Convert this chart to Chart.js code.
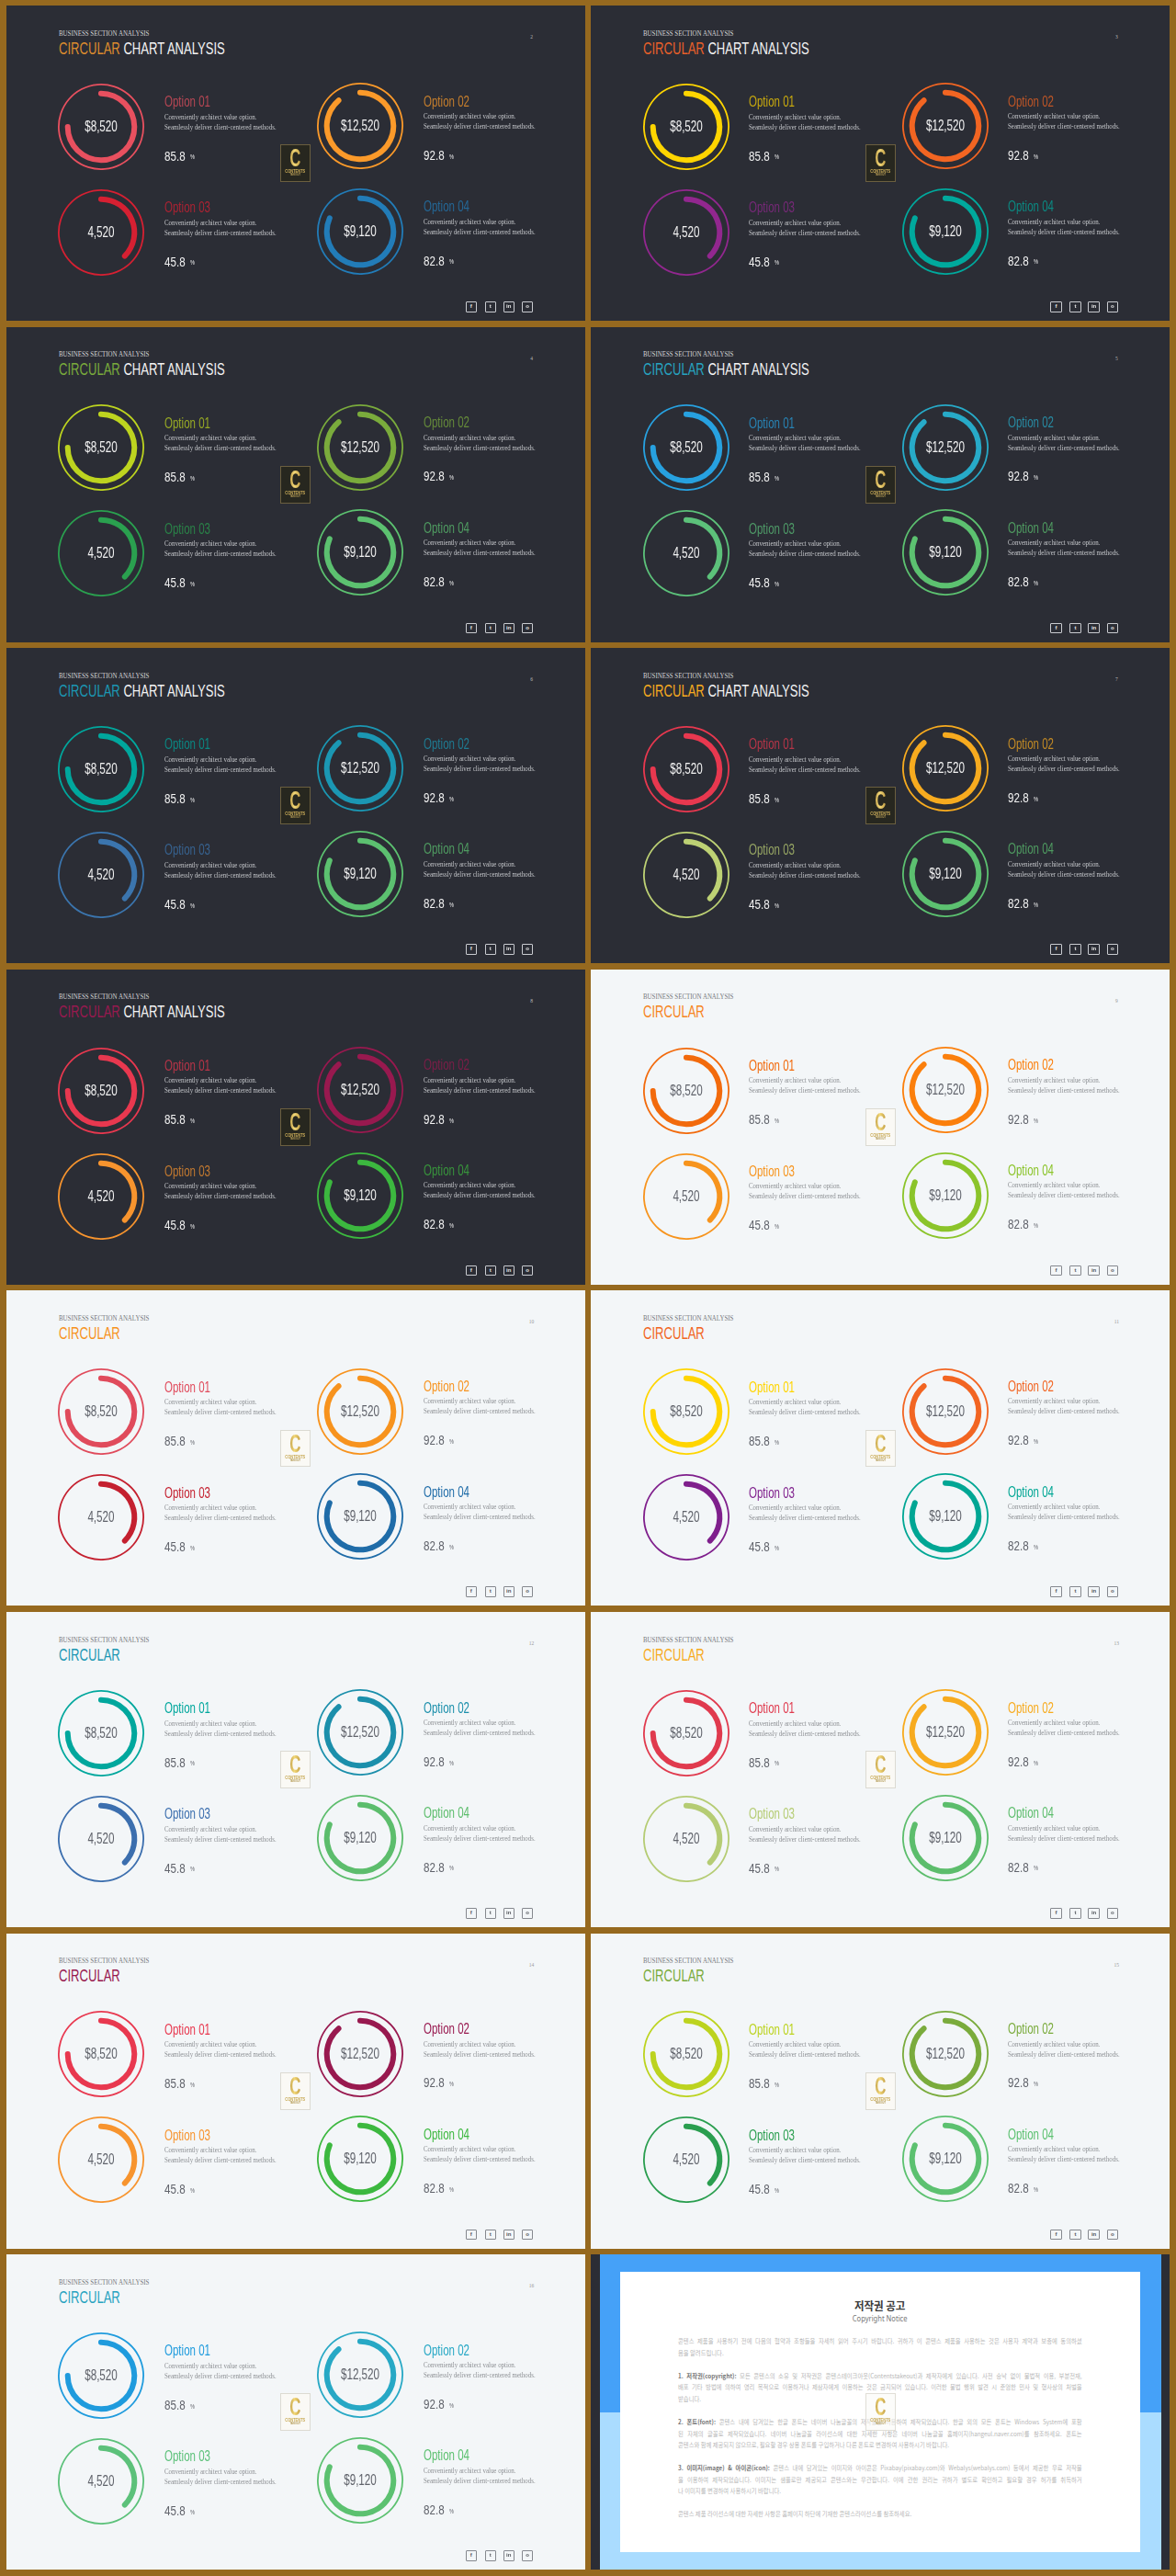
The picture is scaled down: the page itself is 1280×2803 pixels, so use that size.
<!DOCTYPE html>
<html lang="en"><head><meta charset="utf-8"><title>Circular chart analysis</title>
<script src="https://cdn.jsdelivr.net/npm/chart.js@4"></script>
<style>
html,body{margin:0;padding:0;background:#96691f;}
#page{position:relative;width:1280px;height:2803px;overflow:hidden;background:#96691f;}
.panel{position:absolute;width:630.2px;height:343px;overflow:hidden;}
.dark{background:#2b2d35;}.light{background:#f3f6f8;}
.t{position:absolute;white-space:nowrap;line-height:1;transform-origin:left center;}
.sans{font-family:"Liberation Sans",sans-serif;}
.serif{font-family:"Liberation Serif",serif;}
canvas{position:absolute;}
.logo{position:absolute;left:298.8px;top:151.3px;width:32.5px;height:40.7px;box-sizing:border-box;text-align:center;overflow:hidden;}
.logo.onDark{background:#27271f;border:1.2px solid #6b5f3f;}
.logo.onLight{background:#faf9f5;border:1.2px solid #dcdad2;}
.logo.onNotice{background:rgba(250,249,245,.55);border:1.2px solid #e0ded6;}
.logo b{display:block;font:bold 28px/22px "Liberation Sans",sans-serif;margin-top:3px;transform:scaleX(.6);background:linear-gradient(90deg,#a57f2c,#f2d777 45%,#a97f28);-webkit-background-clip:text;background-clip:text;color:transparent;}
.logo i{display:block;font:bold 5px/5px "Liberation Sans",sans-serif;font-style:normal;color:#c9ab58;margin-top:1px;transform:scaleX(.8);}
.logo u{display:block;font:bold 3px/3px "Liberation Sans",sans-serif;text-decoration:none;color:#b39a55;transform:scaleX(.8);}
.soc{position:absolute;top:322px;width:12.5px;height:11.7px;box-sizing:border-box;border-radius:1px;font:bold 6px/9.7px "Liberation Sans",sans-serif;text-align:center;}
.dark .soc{border:1px solid #c9cbd0;color:#e6e6e6;}
.light .soc{border:1px solid #85888e;color:#55585e;}
.k{position:absolute;left:95.1px;width:479.4px;font-family:"Noto Sans CJK KR",sans-serif;font-size:6.9px;line-height:1;color:#b8b8b8;white-space:nowrap;transform:translateY(-50%) scaleX(.917);transform-origin:left center;}
.k.j{white-space:normal;word-spacing:-.8px;text-align:justify;text-align-last:justify;}
.k b{color:#777;font-weight:700;}
</style></head><body><div id="page"></div>
<script>
// ---- chart values ----
const categories = ["Option 01", "Option 02", "Option 03", "Option 04"];
const amounts = ["$8,520", "$12,520", "4,520", "$9,120"];
const percents = [85.8, 92.8, 45.8, 82.8];
const arcShares = [77.6, 91.5, 40.1, 84.3];
const pageNumbers = [2, 3, 4, 5, 6, 7, 8, 9, 10, 11, 12, 13, 14, 15, 16];
const descLine1 = "Conveniently architect value option.";
const descLine2 = "Seamlessly deliver client-centered methods.";
const kicker = "BUSINESS SECTION ANALYSIS";
// ring colours of each panel, in page order
const panelColors = [
  ["#e8505f","#fb9a2a","#d62032","#227cb8"],
  ["#ffd500","#f26522","#92278f","#00a99d"],
  ["#bdd41f","#7aab3c","#2aa04f","#5cc170"],
  ["#27a1e0","#27aac8","#5cc17a","#5cc170"],
  ["#00a79d","#1b97b3","#3b75ae","#5cc170"],
  ["#e8384f","#f7ab1f","#bdd174","#5cc170"],
  ["#e8384f","#98194f","#f7942e","#3cb83f"],
  ["#f26a0c","#fb7f0c","#f7941d","#8bc42a"],
  ["#e04b5c","#f7931e","#c4202f","#1f6ca8"],
  ["#ffd500","#f26522","#7f1f8c","#00a694"],
  ["#00a79d","#1b8fab","#3b6eae","#5cbd6c"],
  ["#e03a4e","#f7ab1f","#b5cc74","#5cbd6c"],
  ["#e8384f","#98194f","#f7942e","#3cb83f"],
  ["#bcd31f","#7aab3c","#2a9e4f","#5cc170"],
  ["#1f9bdd","#27a8c5","#5cc17a","#5cc170"]
];
const accentColors = ["#dd8c2e","#e8602a","#7aab3c","#27a3c0","#1b97b3","#f7ab1f","#98194f","#f7851e","#f7931e","#f26522","#1b97b3","#f7ab1f","#98194f","#7aab3c","#27a3c0"];
const darkPanelCount = 7;
const noticeLines = [
 [94.3,"콘텐스 제품을 사용하기 전에 다음의 협약과 조항들을 자세히 읽어 주시기 바랍니다. 귀하가 이 콘텐스 제품을 사용하는 것은 사용자 계약과 보증에 동의하셨",1],
 [106.7,"음을 알려드립니다.",0],
 [131.7,"<b>1. 저작권(copyright):</b> 모든 콘텐스의 소유 및 저작권은 콘텐스테이크아웃(Contentstakeout)과 제작자에게 있습니다. 사전 승낙 없이 불법적 이용, 부분전재,",1],
 [144.3,"배포 기타 방법에 의하여 영리 목적으로 이용하거나 제삼자에게 이용하는 것은 금지되어 있습니다. 이러한 불법 행위 발견 시 준엄한 민사 및 형사상의 처벌을",1],
 [157.3,"받습니다.",0],
 [182,"<b>2. 폰트(font):</b> 콘텐스 내에 담겨있는 한글 폰트는 네이버 나눔글꼴의 저작물을 이용하여 제작되었습니다. 한글 외의 모든 폰트는 Windows System에 포함",1],
 [194.7,"된 자체의 글꼴로 제작되었습니다. 네이버 나눔글꼴 라이선스에 대한 자세한 사항은 네이버 나눔글꼴 홈페이지(hangeul.naver.com)를 참조하세요. 폰트는",1],
 [207.3,"콘텐스와 함께 제공되지 않으므로, 필요할 경우 상용 폰트를 구입하거나 다른 폰트로 변경하여 사용하시기 바랍니다.",0],
 [232.3,"<b>3. 이미지(image) &amp; 아이콘(icon):</b> 콘텐스 내에 담겨있는 이미지와 아이콘은 Pixabay(pixabay.com)와 Webalys(webalys.com) 등에서 제공한 무료 저작물",1],
 [245,"을 이용하여 제작되었습니다. 이미지는 샘플로만 제공되고 콘텐스와는 무관합니다. 이에 관한 권리는 귀하가 별도로 확인하고 필요할 경우 허가를 취득하거",1],
 [257.3,"나 이미지를 변경하여 사용하시기 바랍니다.",0],
 [282.3,"콘텐스 제품 라이선스에 대한 자세한 사항은 홈페이지 하단에 기재한 콘텐스라이선스를 참조하세요.",0]
];

// ---- layout ----
const colX = [6.5, 643.3];
const rowY = r => 6 + r * 349.6;
const ringPos = [[103.8,131.8],[385.8,131.2],[103.8,246.8],[385.8,245.8]];
const page = document.getElementById("page");

function el(parent, cls, style, html){
  const d = document.createElement("div");
  d.className = cls; d.style.cssText = style; d.innerHTML = html; parent.appendChild(d); return d;
}
// text block: vertically centred on y, horizontally squeezed by sx
function txt(parent, cls, x, y, size, sx, color, html, width){
  return el(parent,"t "+cls,
    `left:${x}px;top:${y}px;font-size:${size}px;color:${color};transform:translateY(-50%) scaleX(${sx});`+
    (width?`width:${width}px;text-align:center;transform-origin:center center;`:""),html);
}
function dim(hex){ // option headings on the dark slides sit darker than their rings
  const n = parseInt(hex.slice(1),16), k = 0.74;
  const m = (c,b)=>Math.round(c*k+b*(1-k));
  return `rgb(${m(n>>16,43)},${m((n>>8)&255,45)},${m(n&255,53)})`;
}
function ring(parent, cx, cy, share, color){
  const c = document.createElement("canvas");
  c.width = 100; c.height = 100;
  c.style.cssText = `left:${cx-50}px;top:${cy-50}px;width:100px;height:100px;`;
  parent.appendChild(c);
  new Chart(c,{type:"doughnut",
    data:{labels:["value","rest"],datasets:[
      {data:[100],backgroundColor:[color],borderWidth:0,weight:1.8},
      {data:[100],backgroundColor:["rgba(0,0,0,0)"],borderWidth:0,weight:5.9},
      {data:[share,100-share],backgroundColor:[color,"rgba(0,0,0,0)"],borderWidth:0,borderRadius:[3,0],weight:6}
    ]},
    options:{responsive:false,animation:false,radius:47,cutout:"70.85%",rotation:-4.8,
      events:[],plugins:{legend:{display:false},tooltip:{enabled:false}}}});
}
function logo(p,kind){ el(p,"logo "+kind,"","<b>C</b><i>CONTENTS</i><u>TAKEOUT</u>"); }

panelColors.forEach((colors,i)=>{
  const isDark = i < darkPanelCount;
  const r = Math.floor(i/2), side = i%2;
  const p = el(page,"panel "+(isDark?"dark":"light"),`left:${colX[side]}px;top:${rowY(r)}px;`,"");
  const body = isDark ? "#f2f2f2" : "#60636b";
  const desc = isDark ? "#c4c6ca" : "#8d9094";
  txt(p,"serif",57,30.7,7.6,.91,isDark?"#d4d4d6":"#77797d",kicker);
  txt(p,"sans",57,46.7,18,.726,isDark?"#f4f4f4":accentColors[i],
    `<span style="color:${accentColors[i]}">CIRCULAR</span>`+(isDark?" CHART ANALYSIS":""));
  txt(p,"serif",568,35,5.5,1,isDark?"#bbb":"#999",String(pageNumbers[i]),8);
  categories.forEach((cat,j)=>{
    const [cx,cy]=ringPos[j], tx = cx+68.3;
    ring(p,cx,cy,arcShares[j],colors[j]);
    txt(p,"sans",cx-40,cy,16,.73,body,amounts[j],80);
    txt(p,"sans",tx,cy-26.5,16,.72,isDark?dim(colors[j]):colors[j],cat);
    txt(p,"serif",tx,cy-10.1,7.6,.91,desc,descLine1);
    txt(p,"serif",tx,cy+0.9,7.6,.91,desc,descLine2);
    txt(p,"sans",tx,cy+31.7,14.5,.8,body,percents[j].toFixed(1));
    txt(p,"sans",tx+28,cy+33.6,6.5,.85,body,"%");
  });
  ["f","t","in","o"].forEach((g,k)=>el(p,"soc",`left:${[500,521,541,561.3][k]}px`,g));
  logo(p,isDark?"onDark":"onLight");
});

// ---- copyright notice slide ----
const n = el(page,"panel dark",`left:${colX[1]}px;top:${rowY(7)}px;`,"");
el(n,"",`position:absolute;left:9.3px;top:0;width:611.9px;height:172px;background:#45a1f8`,"");
el(n,"",`position:absolute;left:9.3px;top:172px;width:611.9px;height:171px;background:#aadcff`,"");
el(n,"",`position:absolute;left:32.2px;top:19.3px;width:565.3px;height:304.4px;background:#fff`,"");
el(n,"t",`left:32.2px;width:565.3px;text-align:center;top:56px;font:bold 12.5px/1 'Noto Sans CJK KR',sans-serif;color:#3b3b3b;transform:translateY(-50%) scaleX(.92);transform-origin:center center`,"저작권 공고");
el(n,"t",`left:32.2px;width:565.3px;text-align:center;top:70.3px;font:8.5px/1 'Noto Sans',sans-serif;color:#777;transform:translateY(-50%) scaleX(.89);transform-origin:center center`,"Copyright Notice");
noticeLines.forEach(([y,line,j])=>el(n,"k"+(j?" j":""),`top:${y}px`,line));
logo(n,"onNotice");
</script></body></html>
